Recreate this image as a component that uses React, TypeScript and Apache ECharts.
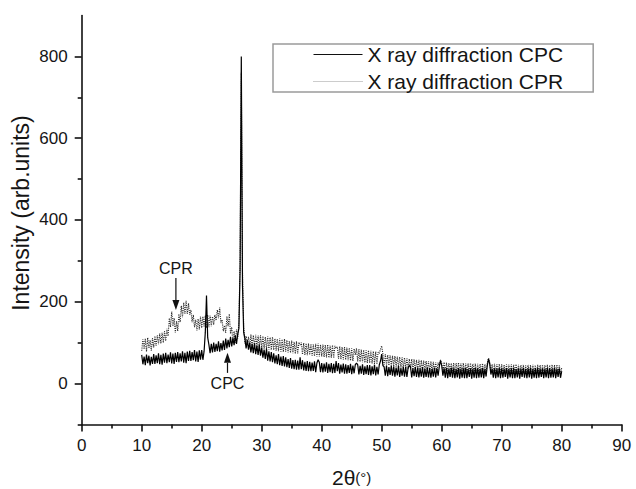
import React, { useEffect, useRef } from "react";
import * as echarts from "echarts";

// Scan grid of the diffractometer (2θ, degrees)
const scanStart = 10;
const scanStep = 0.2;

// Intensity (arb.units), one value per scan step from 10.0° to 80.0°
const cpcIntensity = [
  70, 47, 66, 45, 71, 50, 68, 44, 65, 48,
  72, 48, 69, 50, 74, 47, 70, 46, 73, 51,
  75, 50, 71, 52, 76, 49, 73, 48, 75, 53,
  77, 52, 74, 54, 79, 51, 75, 50, 78, 55,
  80, 55, 77, 57, 82, 54, 78, 53, 81, 58,
  82, 58, 79, 125, 215, 112, 95, 74, 97, 76,
  100, 77, 97, 79, 103, 78, 99, 81, 105, 82,
  110, 86, 107, 89, 114, 91, 111, 94, 118, 97,
  120, 135, 280, 800, 240, 125, 110, 86, 106, 83,
  100, 76, 97, 74, 98, 72, 93, 70, 95, 68,
  88, 63, 83, 60, 85, 56, 79, 54, 77, 52,
  74, 49, 69, 47, 72, 45, 66, 43, 67, 42,
  64, 40, 60, 38, 62, 36, 57, 35, 58, 34,
  56, 34, 64, 35, 57, 32, 53, 31, 55, 30,
  53, 30, 51, 31, 54, 28, 50, 58, 52, 28,
  50, 27, 49, 29, 52, 26, 48, 28, 50, 25,
  48, 26, 55, 30, 50, 24, 46, 27, 49, 24,
  47, 24, 45, 26, 48, 23, 44, 25, 46, 50,
  46, 22, 43, 24, 47, 21, 42, 23, 45, 21,
  45, 20, 42, 23, 46, 20, 41, 22, 46, 55,
  72, 44, 41, 19, 44, 18, 40, 21, 43, 19,
  42, 17, 39, 20, 43, 16, 38, 19, 41, 17,
  40, 16, 38, 44, 41, 15, 37, 18, 40, 16,
  39, 15, 37, 17, 40, 14, 36, 16, 39, 15,
  38, 14, 36, 17, 39, 15, 37, 19, 42, 56,
  44, 19, 37, 14, 38, 13, 36, 16, 39, 14,
  37, 13, 35, 15, 38, 12, 36, 14, 37, 13,
  38, 13, 35, 16, 37, 12, 36, 14, 38, 13,
  37, 14, 36, 15, 38, 13, 35, 17, 44, 60,
  48, 22, 36, 14, 37, 13, 35, 15, 38, 13,
  37, 14, 36, 16, 38, 12, 35, 15, 37, 13,
  38, 13, 35, 15, 37, 12, 36, 16, 38, 14,
  36, 13, 37, 15, 38, 12, 35, 14, 37, 13,
  38, 14, 36, 16, 37, 13, 35, 15, 38, 13,
  37, 14, 36, 15, 38, 13, 35, 16, 37, 14,
  30,
];

const cprIntensity = [
  80, 108, 84, 110, 78, 112, 86, 106, 80, 111,
  88, 116, 92, 118, 96, 122, 98, 124, 100, 128,
  104, 134, 116, 160, 138, 176, 140, 160, 124, 152,
  128, 170, 150, 190, 162, 198, 170, 202, 170, 196,
  168, 180, 150, 168, 138, 156, 130, 158, 132, 164,
  136, 164, 138, 166, 136, 168, 138, 166, 140, 164,
  144, 168, 154, 180, 160, 186, 148, 156, 128, 142,
  124, 164, 140, 170, 122, 138, 100, 128, 100, 132,
  110, 150, 300, 760, 270, 140, 98, 116, 94, 114,
  90, 120, 92, 118, 90, 119, 89, 117, 88, 118,
  86, 116, 85, 114, 84, 115, 83, 113, 82, 114,
  82, 110, 80, 109, 79, 110, 78, 108, 77, 109,
  78, 106, 76, 104, 75, 105, 74, 102, 73, 103,
  72, 101, 94, 100, 71, 99, 70, 98, 69, 98,
  70, 97, 68, 96, 67, 97, 66, 98, 66, 95,
  66, 95, 65, 94, 64, 95, 63, 93, 63, 94,
  62, 92, 86, 90, 60, 91, 59, 89, 58, 89,
  58, 88, 57, 87, 56, 86, 55, 85, 70, 86,
  54, 84, 53, 83, 52, 82, 51, 81, 50, 81,
  50, 80, 49, 79, 48, 78, 47, 77, 74, 84,
  92, 72, 46, 72, 45, 70, 44, 69, 43, 68,
  42, 67, 41, 66, 40, 65, 39, 64, 38, 63,
  37, 62, 36, 60, 35, 60, 34, 59, 33, 58,
  33, 58, 32, 57, 31, 56, 30, 55, 30, 54,
  29, 54, 28, 53, 28, 52, 27, 51, 44, 58,
  50, 28, 52, 28, 51, 29, 50, 28, 50, 27,
  50, 27, 50, 27, 51, 28, 49, 27, 50, 26,
  49, 26, 49, 26, 50, 27, 48, 26, 49, 25,
  48, 25, 48, 25, 49, 26, 47, 28, 50, 62,
  54, 28, 47, 25, 48, 24, 47, 25, 48, 24,
  47, 24, 46, 24, 47, 25, 46, 23, 47, 23,
  46, 23, 47, 24, 46, 22, 45, 23, 46, 22,
  45, 22, 46, 23, 45, 22, 46, 23, 45, 22,
  46, 23, 45, 22, 46, 22, 45, 23, 46, 22,
  45, 22, 46, 23, 45, 22, 46, 23, 45, 22,
  38,
];

const seriesNames = ["X ray diffraction CPC", "X ray diffraction CPR"];
const yMajorTicks = [0, 200, 400, 600, 800];
const yMinorTicks = [-100, 100, 300, 500, 700];

// Annotations in data coordinates
const cprNote = { label: "CPR", x: 15.7, textY: 281, tailY: 258, tipY: 180 };
const cpcNote = { label: "CPC", x: 24.3, textY: 1, tailY: 26, tipY: 75 };

const FONT = "'Liberation Sans', Arial, Helvetica, sans-serif";
const INK = "#151515";

function toPairs(values: number[]) {
  return values.map((v, i) => [Math.round((scanStart + i * scanStep) * 10) / 10, v]);
}

export default function App() {
  const ref = useRef<HTMLDivElement>(null);

  useEffect(() => {
    if (!ref.current) return;
    const chart = echarts.init(ref.current, undefined, { renderer: "svg" });
    const option: any = {
      animation: false,
      backgroundColor: "#ffffff",
      textStyle: { fontFamily: FONT },
      grid: {
        left: 81.7,
        right: 14.3,
        top: 15.5,
        bottom: 64.6,
        containLabel: false,
        outerBoundsMode: "none",
      },
      legend: {
        orient: "vertical",
        left: 273,
        top: 44,
        padding: [0, 30, 0, 40],
        itemWidth: 49,
        itemHeight: 14,
        itemGap: 6,
        borderColor: "#9a9a9a",
        borderWidth: 1.5,
        textStyle: { fontSize: 21, color: INK, fontFamily: FONT },
        data: [
          {
            name: seriesNames[0],
            itemStyle: { opacity: 0 },
            lineStyle: { color: "#111", width: 1 },
          },
          {
            name: seriesNames[1],
            itemStyle: { opacity: 0 },
            lineStyle: { color: "#999", width: 1, type: "dotted" },
          },
        ],
      },
      xAxis: {
        type: "value",
        min: 0,
        max: 90,
        interval: 10,
        name: "{a|2θ}{b|(°)}",
        nameLocation: "middle",
        nameGap: 43,
        nameTextStyle: {
          lineHeight: 21,
          rich: {
            a: { fontSize: 21, lineHeight: 21, color: INK, fontFamily: FONT },
            b: { fontSize: 15, lineHeight: 21, color: INK, fontFamily: FONT },
          },
        },
        axisLine: { show: true, onZero: false, lineStyle: { color: "#111", width: 1.6 } },
        axisTick: { show: true, inside: false, length: 7, lineStyle: { color: "#111", width: 1.6 } },
        minorTick: { show: true, splitNumber: 2, length: 4, lineStyle: { color: "#111", width: 1.6 } },
        axisLabel: { fontSize: 17, color: INK, margin: 13, fontFamily: FONT },
        splitLine: { show: false },
      },
      yAxis: [
        {
          type: "value",
          min: -100,
          max: 900,
          axisLine: { show: true, onZero: false, lineStyle: { color: "#111", width: 1.6 } },
          axisTick: {
            show: true,
            inside: false,
            length: 7,
            customValues: yMajorTicks,
            lineStyle: { color: "#111", width: 1.6 },
          },
          axisLabel: { fontSize: 17, color: INK, margin: 14, customValues: yMajorTicks, fontFamily: FONT },
          splitLine: { show: false },
        },
        {
          type: "value",
          min: -100,
          max: 900,
          position: "left",
          axisLine: { show: false },
          axisTick: {
            show: true,
            inside: false,
            length: 4,
            customValues: yMinorTicks,
            lineStyle: { color: "#111", width: 1.6 },
          },
          axisLabel: { show: false },
          splitLine: { show: false },
        },
      ],
      series: [
        {
          name: seriesNames[1],
          type: "line",
          data: toPairs(cprIntensity),
          symbol: "none",
          lineStyle: { color: "#2a2a2a", width: 1.1, type: "dotted" },
          itemStyle: { color: "#999" },
          z: 2,
        },
        {
          name: seriesNames[0],
          type: "line",
          data: toPairs(cpcIntensity),
          symbol: "none",
          lineStyle: { color: "#000", width: 1.2 },
          itemStyle: { color: "#000" },
          z: 3,
        },
      ],
    };
    chart.setOption(option);

    const px = (x: number, y: number) => chart.convertToPixel({ gridIndex: 0 }, [x, y]) as number[];
    const arrow = (note: typeof cprNote) => {
      const t = px(note.x, note.textY);
      const a = px(note.x, note.tailY);
      const b = px(note.x, note.tipY);
      const dir = b[1] > a[1] ? 1 : -1;
      const headLen = 10;
      const headHalf = 3.5;
      return [
        {
          type: "text",
          x: t[0],
          y: t[1],
          style: {
            text: note.label,
            fontSize: 16,
            fontFamily: FONT,
            fill: INK,
            align: "center",
            verticalAlign: "middle",
          },
          z: 10,
        },
        {
          type: "line",
          shape: { x1: a[0], y1: a[1], x2: b[0], y2: b[1] - dir * headLen },
          style: { stroke: "#111", lineWidth: 1.2 },
          z: 10,
        },
        {
          type: "polygon",
          shape: {
            points: [
              [b[0], b[1]],
              [b[0] - headHalf, b[1] - dir * headLen],
              [b[0] + headHalf, b[1] - dir * headLen],
            ],
          },
          style: { fill: "#111" },
          z: 10,
        },
      ];
    };
    const yName = {
      type: "text",
      x: 21,
      y: 213,
      rotation: Math.PI / 2,
      style: {
        text: "Intensity (arb.units)",
        fontSize: 23,
        fontFamily: FONT,
        fill: INK,
        align: "center",
        verticalAlign: "middle",
      },
    };
    chart.setOption({ graphic: [yName, ...arrow(cprNote), ...arrow(cpcNote)] });

    return () => chart.dispose();
  }, []);

  return <div ref={ref} style={{ width: 636, height: 489, position: "absolute", left: 0, top: 0 }} />;
}
